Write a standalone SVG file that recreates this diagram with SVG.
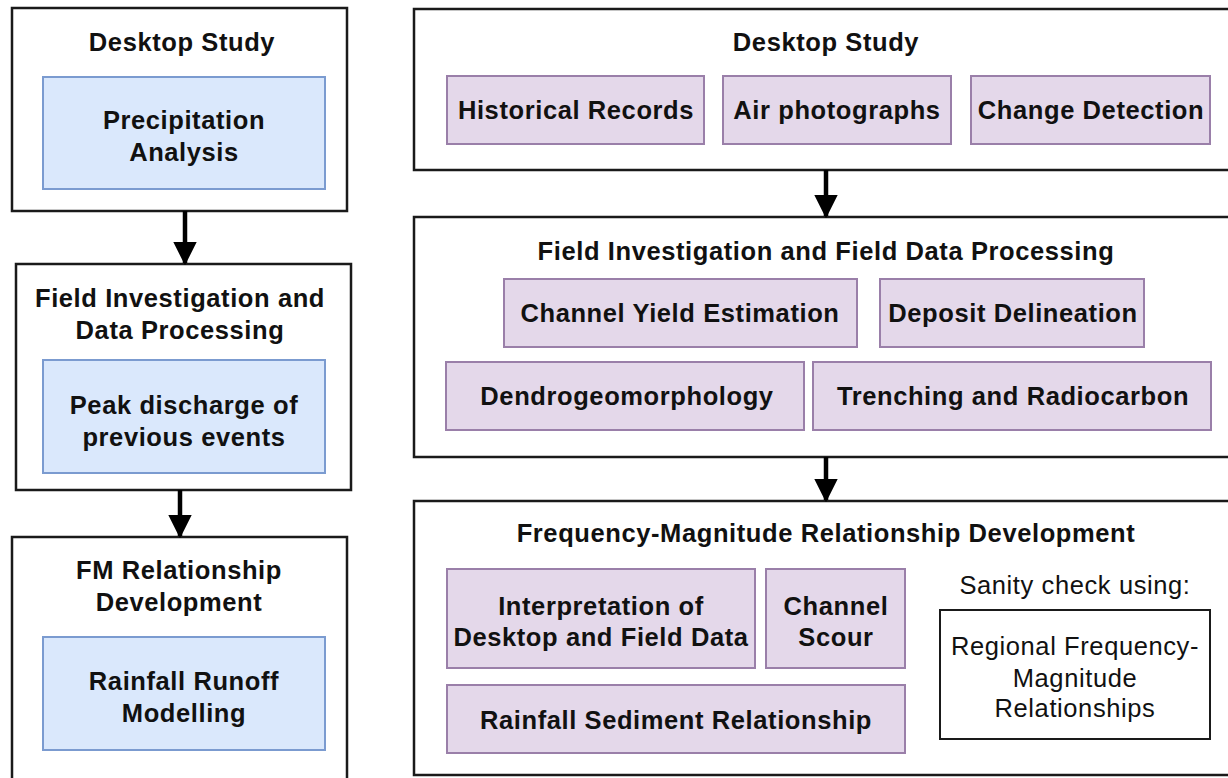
<svg xmlns="http://www.w3.org/2000/svg" width="1228" height="778" viewBox="0 0 1228 778">
<defs>
<style>
.outer{fill:#ffffff;stroke:#1a1a1a;stroke-width:2.5}
.blue{fill:#dae8fc;stroke:#7b9bd0;stroke-width:2}
.purple{fill:#e4d8ea;stroke:#9a7fa9;stroke-width:2}
.plain{fill:#ffffff;stroke:#1a1a1a;stroke-width:2}
text{font-family:"Liberation Sans",Arial,sans-serif;font-size:25.5px;fill:#111111;text-anchor:middle;letter-spacing:0.6px}
.b{font-weight:bold}
.conn{stroke:#000000;stroke-width:4.5;fill:none}
</style>
<marker id="ah" viewBox="0 0 10 10" refX="9" refY="5" markerWidth="5.2" markerHeight="5.2" orient="auto" markerUnits="strokeWidth">
<path d="M0,0 L10,5 L0,10 Z" fill="#000000"/>
</marker>
</defs>
<rect width="1228" height="778" fill="#ffffff"/>

<g id="left-desktop">
<rect class="outer" x="12" y="8" width="335" height="203"/>
<text class="b" x="182" y="51">Desktop Study</text>
<rect class="blue" x="43" y="77" width="282" height="112"/>
<text class="b" x="184" y="129">Precipitation</text>
<text class="b" x="184" y="161">Analysis</text>
</g>

<g id="left-field">
<rect class="outer" x="16" y="264" width="335" height="226"/>
<text class="b" x="180" y="307">Field Investigation and</text>
<text class="b" x="180" y="339">Data Processing</text>
<rect class="blue" x="43" y="360" width="282" height="113"/>
<text class="b" x="184" y="414">Peak discharge of</text>
<text class="b" x="184" y="446">previous events</text>
</g>

<g id="left-fm">
<rect class="outer" x="12" y="537" width="335" height="250"/>
<text class="b" x="179" y="579">FM Relationship</text>
<text class="b" x="179" y="611">Development</text>
<rect class="blue" x="43" y="637" width="282" height="113"/>
<text class="b" x="184" y="690">Rainfall Runoff</text>
<text class="b" x="184" y="722">Modelling</text>
</g>

<g id="right-desktop">
<rect class="outer" x="414" y="9" width="830" height="161"/>
<text class="b" x="826" y="51">Desktop Study</text>
<rect class="purple" x="447" y="76" width="257" height="68"/>
<text class="b" x="576" y="119">Historical Records</text>
<rect class="purple" x="723" y="76" width="228" height="68"/>
<text class="b" x="837" y="119">Air photographs</text>
<rect class="purple" x="971" y="76" width="239" height="68"/>
<text class="b" x="1091" y="119">Change Detection</text>
</g>

<g id="right-field">
<rect class="outer" x="414" y="217" width="830" height="240"/>
<text class="b" x="826" y="260">Field Investigation and Field Data Processing</text>
<rect class="purple" x="504" y="279" width="353" height="68"/>
<text class="b" x="680" y="322">Channel Yield Estimation</text>
<rect class="purple" x="880" y="279" width="264" height="68"/>
<text class="b" x="1013" y="322">Deposit Delineation</text>
<rect class="purple" x="446" y="362" width="358" height="68"/>
<text class="b" x="627" y="405">Dendrogeomorphology</text>
<rect class="purple" x="813" y="362" width="398" height="68"/>
<text class="b" x="1013" y="405">Trenching and Radiocarbon</text>
</g>

<g id="right-fm">
<rect class="outer" x="414" y="501" width="830" height="274"/>
<text class="b" x="826" y="542">Frequency-Magnitude Relationship Development</text>
<rect class="purple" x="447" y="569" width="308" height="99"/>
<text class="b" x="601" y="615">Interpretation of</text>
<text class="b" x="601" y="646">Desktop and Field Data</text>
<rect class="purple" x="766" y="569" width="139" height="99"/>
<text class="b" x="836" y="615">Channel</text>
<text class="b" x="836" y="646">Scour</text>
<rect class="purple" x="447" y="685" width="458" height="68"/>
<text class="b" x="676" y="729">Rainfall Sediment Relationship</text>
<text x="1075" y="594">Sanity check using:</text>
<rect class="plain" x="940" y="610" width="270" height="129"/>
<text x="1075" y="655">Regional Frequency-</text>
<text x="1075" y="687">Magnitude</text>
<text x="1075" y="717">Relationships</text>
</g>

<g id="connectors">
<line class="conn" x1="185" y1="211" x2="185" y2="263" marker-end="url(#ah)"/>
<line class="conn" x1="180" y1="490" x2="180" y2="536" marker-end="url(#ah)"/>
<line class="conn" x1="826" y1="170" x2="826" y2="216" marker-end="url(#ah)"/>
<line class="conn" x1="826" y1="457" x2="826" y2="500" marker-end="url(#ah)"/>
</g>
</svg>
